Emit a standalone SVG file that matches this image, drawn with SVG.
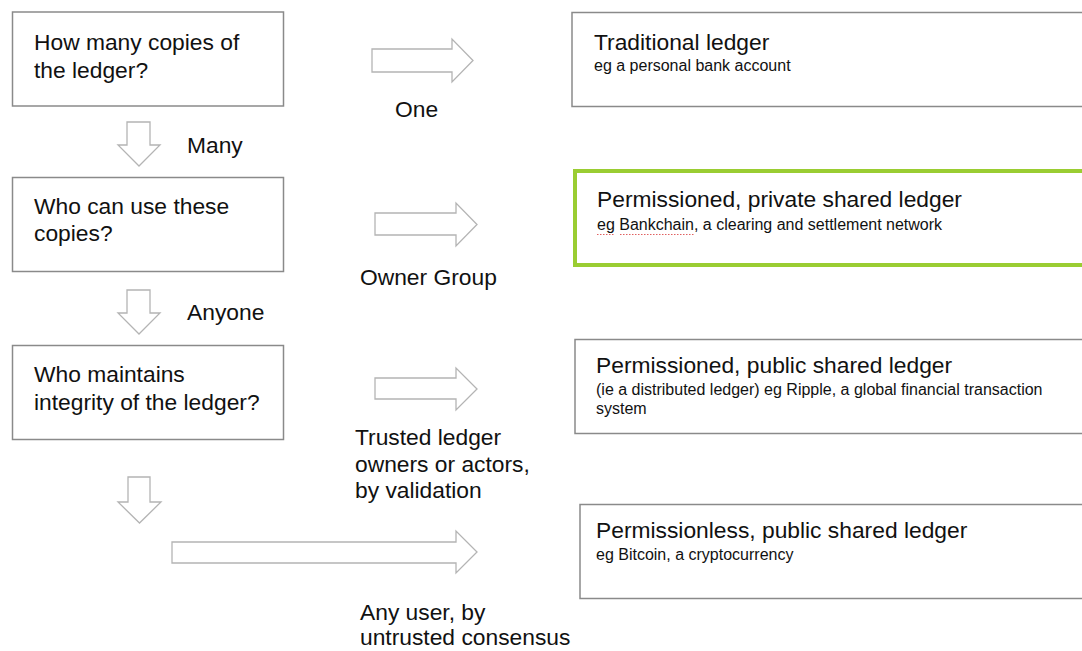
<svg xmlns="http://www.w3.org/2000/svg" width="1082" height="651" viewBox="0 0 1082 651">
  <style>
    .q { fill: #fff; stroke: #8a8a8a; stroke-width: 1.5; }
    .r { fill: #fff; stroke: #8a8a8a; stroke-width: 1.5; }
    .hl { fill: #fff; stroke: #9acd32; stroke-width: 4; }
    .arr { fill: #fff; stroke: #b4b4b4; stroke-width: 1.3; stroke-linejoin: miter; }
    text { font-family: "Liberation Sans", Arial, Helvetica, sans-serif; fill: #111; }
    .big { font-size: 22.8px; }
    .small { font-size: 16px; }
    .spell { fill: none; stroke: #e06060; stroke-width: 1; stroke-dasharray: 1.5 1.5; }
  </style>

  <rect width="1082" height="651" fill="#fff"/>

  <!-- question boxes -->
  <g id="q-copies">
    <rect class="q" x="12.5" y="12" width="271" height="94"/>
    <text class="big" x="34" y="50">How many copies of</text>
    <text class="big" x="34" y="78">the ledger?</text>
  </g>
  <g id="q-users">
    <rect class="q" x="12.5" y="177.5" width="271" height="94"/>
    <text class="big" x="34" y="214">Who can use these</text>
    <text class="big" x="34" y="241">copies?</text>
  </g>
  <g id="q-integrity">
    <rect class="q" x="12.5" y="345.5" width="271" height="94"/>
    <text class="big" x="34" y="382">Who maintains</text>
    <text class="big" x="34" y="410">integrity of the ledger?</text>
  </g>

  <!-- outcome boxes -->
  <g id="traditional">
    <rect class="r" x="572" y="12.5" width="520" height="94"/>
    <text class="big" x="594" y="50">Traditional ledger</text>
    <text class="small" x="594" y="71">eg a personal bank account</text>
  </g>
  <g id="permissioned-private">
    <rect class="hl" x="575" y="171" width="520" height="94"/>
    <text class="big" x="597" y="207">Permissioned, private shared ledger</text>
    <text class="small" x="597" y="230">eg Bankchain, a clearing and settlement network</text>
    <path class="spell" d="M597 234.5 H615 M620 234.5 H695"/>
  </g>
  <g id="permissioned-public">
    <rect class="r" x="575" y="339.5" width="520" height="94"/>
    <text class="big" x="596" y="373">Permissioned, public shared ledger</text>
    <text class="small" x="596" y="395">(ie a distributed ledger) eg Ripple, a global financial transaction</text>
    <text class="small" x="596" y="414">system</text>
  </g>
  <g id="permissionless-public">
    <rect class="r" x="580" y="504.5" width="520" height="94"/>
    <text class="big" x="596" y="538">Permissionless, public shared ledger</text>
    <text class="small" x="596" y="560">eg Bitcoin, a cryptocurrency</text>
  </g>

  <!-- block arrows between steps -->
  <g id="connectors">
    <path class="arr" d="M372 49 H452 V39 L473 60.5 L452 82 V72 H372 Z"/>
    <path class="arr" d="M375 213 H456 V203 L477 224.5 L456 246 V235 H375 Z"/>
    <path class="arr" d="M375 378 H456 V368 L477 389 L456 410 V399 H375 Z"/>
    <path class="arr" d="M172 542 H456 V531 L477 552 L456 573 V563 H172 Z"/>
    <path class="arr" d="M127 122 H150 V145 H160 L139 166 L118 145 H127 Z"/>
    <path class="arr" d="M127 290 H150 V313 H160 L139 334 L118 313 H127 Z"/>
    <path class="arr" d="M128 477 H150 V502 H161 L139.5 523 L118 502 H128 Z"/>
  </g>

  <!-- branch labels -->
  <g id="labels">
    <text class="big" x="395" y="117">One</text>
    <text class="big" x="187" y="153">Many</text>
    <text class="big" x="360" y="285">Owner Group</text>
    <text class="big" x="187" y="320">Anyone</text>
    <text class="big" x="355" y="445">Trusted ledger</text>
    <text class="big" x="355" y="472">owners or actors,</text>
    <text class="big" x="355" y="498">by validation</text>
    <text class="big" x="360" y="620">Any user, by</text>
    <text class="big" x="360" y="645">untrusted consensus</text>
  </g>
</svg>
